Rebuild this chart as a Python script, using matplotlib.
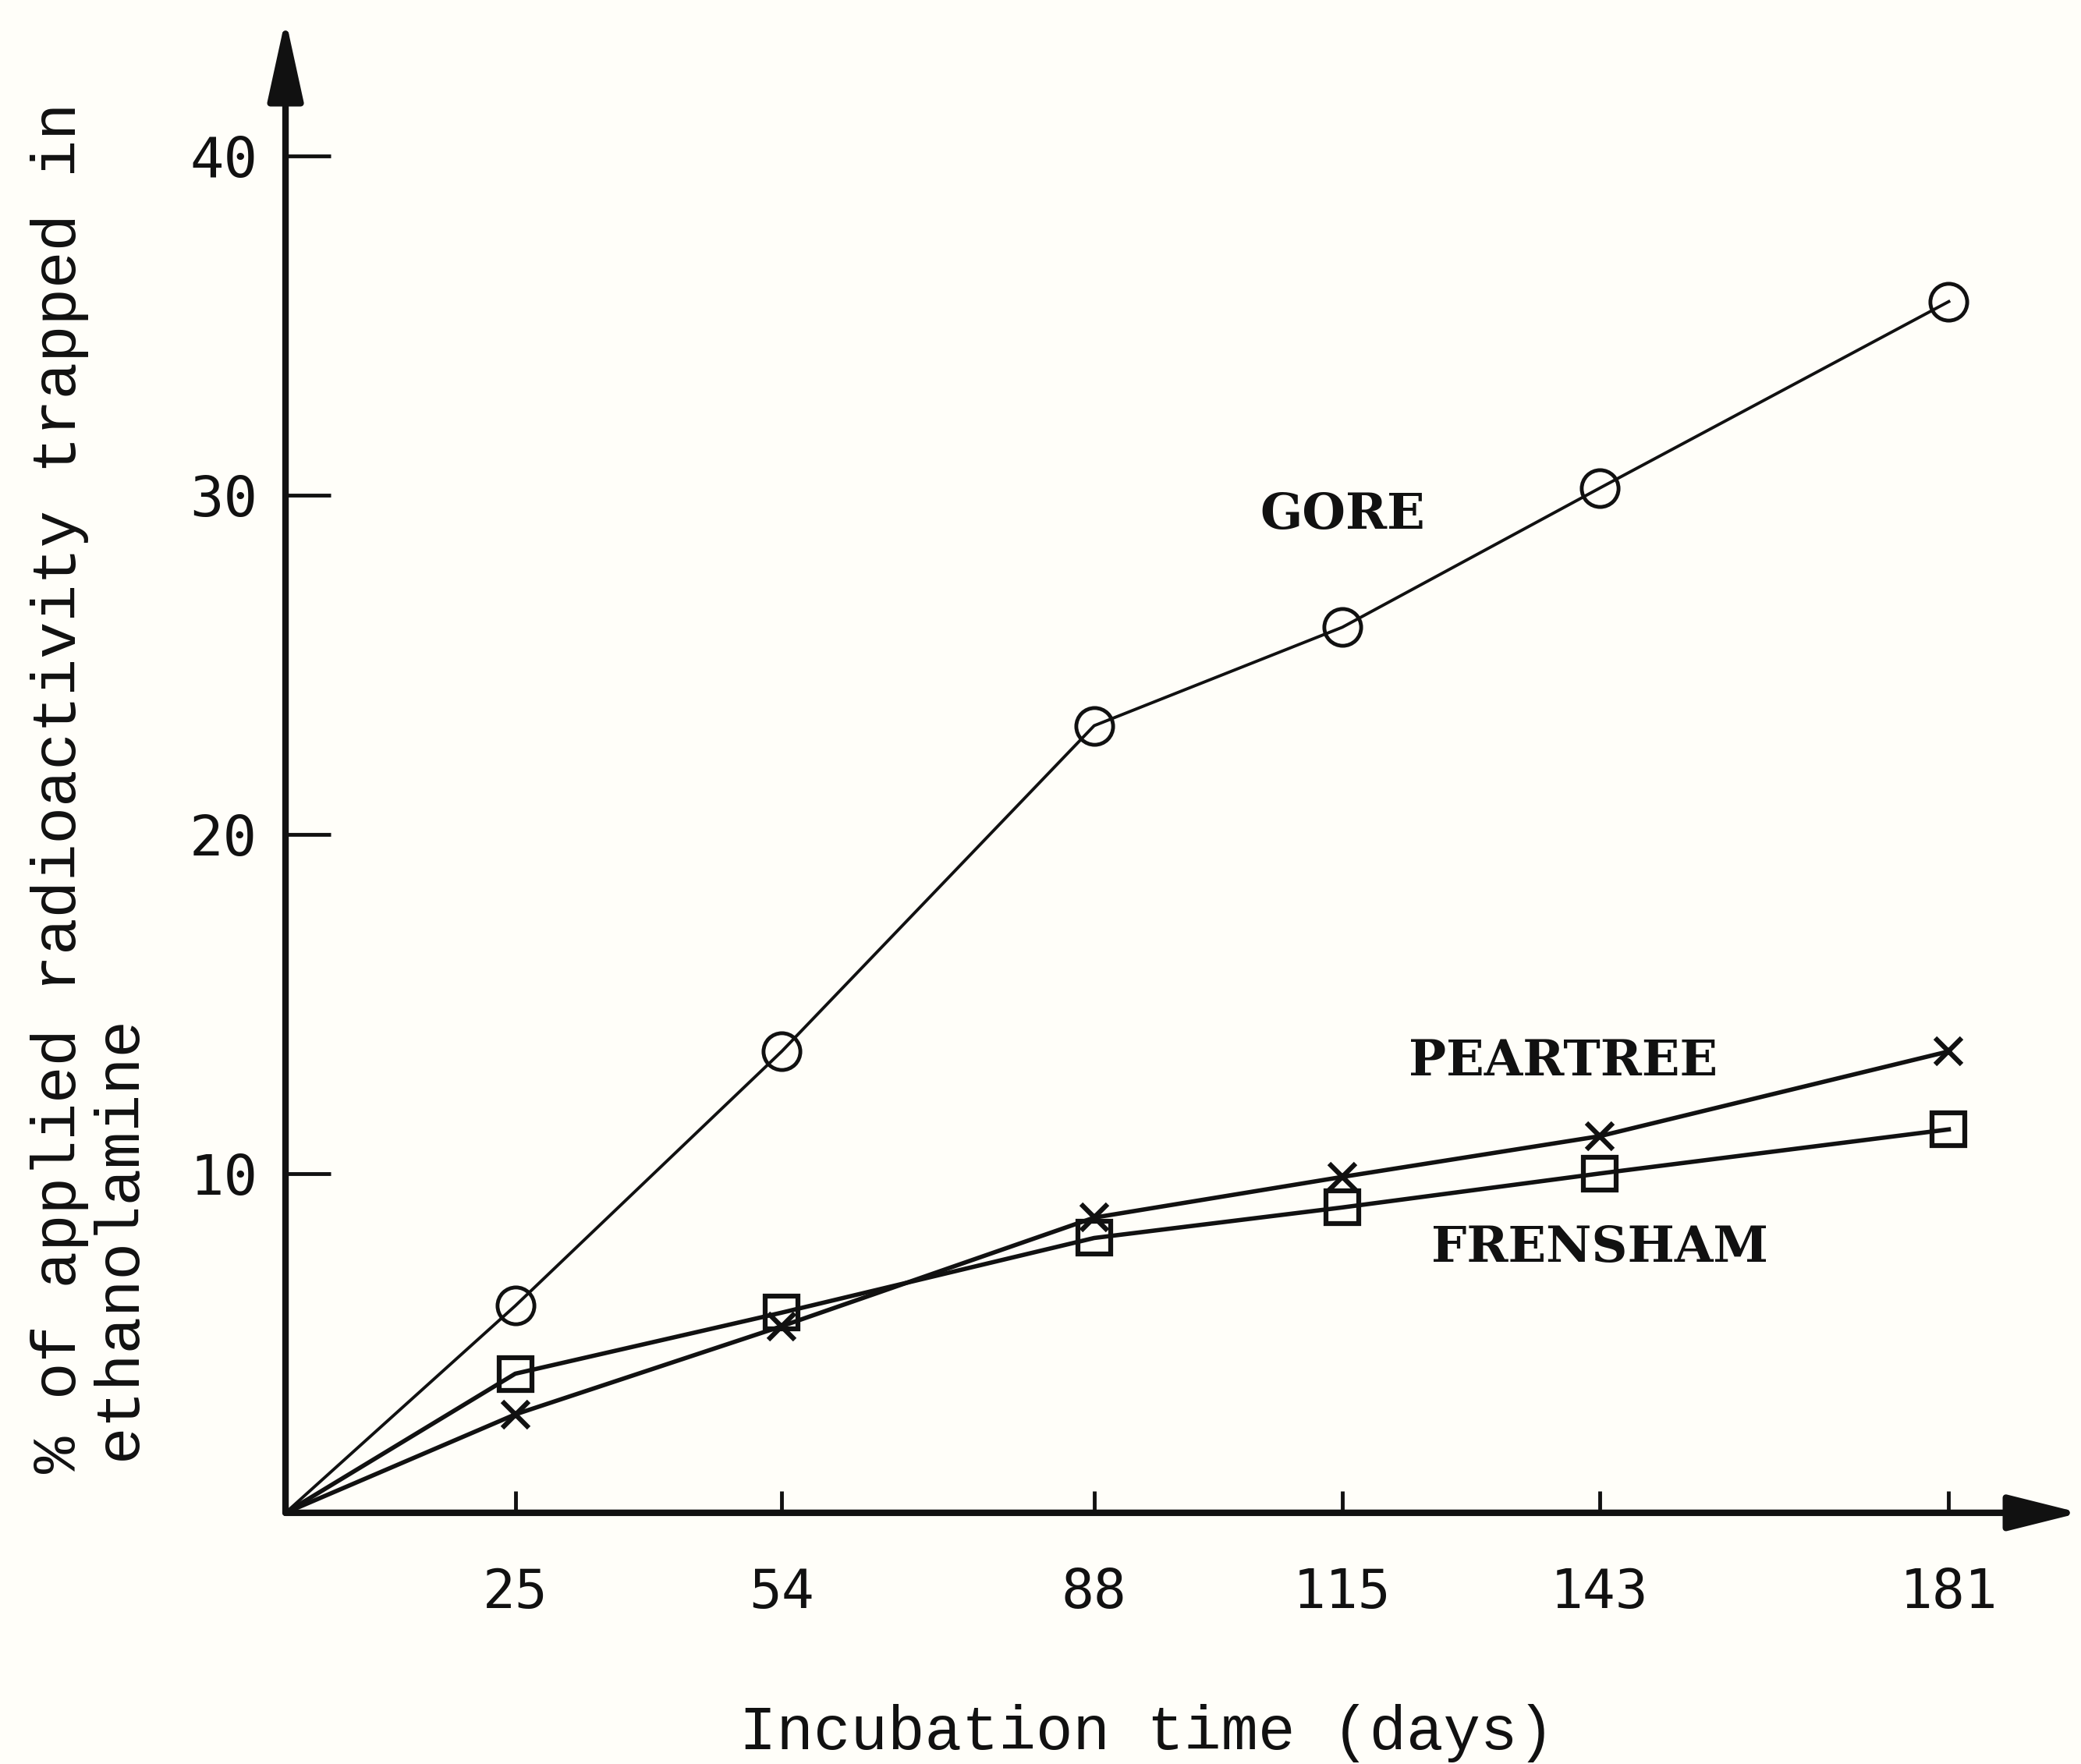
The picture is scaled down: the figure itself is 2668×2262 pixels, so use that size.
import matplotlib
matplotlib.use("Agg")
import matplotlib.pyplot as plt

# dataset
days = [0, 25, 54, 88, 115, 143, 181]
gore = [0, 6.1, 13.6, 23.2, 26.1, 30.2, 35.7]
peartree = [0, 2.9, 5.5, 8.7, 9.9, 11.1, 13.6]
frensham = [0, 4.1, 5.9, 8.1, 9.0, 10.0, 11.3]

x_ticks = [25, 54, 88, 115, 143, 181]
y_ticks = [10, 20, 30, 40]

# series label positions in data units
labels = ["GORE", "PEARTREE", "FRENSHAM"]
label_x = [115, 139, 143]
label_y = [29.4, 13.3, 7.8]

paper = "#fffef9"
ink = "#111111"

fig = plt.figure(figsize=(26.68, 22.62), dpi=100, facecolor=paper)
ax = fig.add_axes([0.1372, 0.1424, 0.858, 0.8386])
ax.set_facecolor(paper)
ax.set_xlim(0, 194.3)
ax.set_ylim(0, 43.6)

# curves, no marker at the origin
ax.plot(days, gore, color=ink, lw=2.8, marker="o", ms=34, mfc="none",
        mec=ink, mew=3.5, markevery=range(1, len(days)), clip_on=False,
        zorder=3)
ax.plot(days, peartree, color=ink, lw=4, marker="x", ms=24, mec=ink,
        mew=4.5, markevery=range(1, len(days)), clip_on=False, zorder=3)
ax.plot(days, frensham, color=ink, lw=4, marker="s", ms=30, mfc="none",
        mec=ink, mew=4.5, markevery=range(1, len(days)), clip_on=False,
        zorder=3)

for name, lx, ly in zip(labels, label_x, label_y):
    ax.text(lx, ly, name, ha="center", va="center", fontsize=46,
            family="DejaVu Serif", fontweight="bold", color=ink)

# axes drawn as arrows
for s in ax.spines.values():
    s.set_visible(False)
ax.annotate("", xy=(0, 1.01), xytext=(0, 0), xycoords="axes fraction",
            arrowprops=dict(arrowstyle="-|>,head_length=1.6,head_width=0.35",
                            lw=6, color=ink, mutation_scale=40,
                            shrinkA=0, shrinkB=0))
ax.annotate("", xy=(1.005, 0), xytext=(0, 0), xycoords="axes fraction",
            arrowprops=dict(arrowstyle="-|>,head_length=1.4,head_width=0.35",
                            lw=6, color=ink, mutation_scale=40,
                            shrinkA=0, shrinkB=0))

ax.set_xticks(x_ticks)
ax.set_xticklabels([str(t) for t in x_ticks])
ax.set_yticks(y_ticks)
ax.set_yticklabels([str(t) for t in y_ticks])
ax.tick_params(axis="x", direction="in", length=20, width=3.5, pad=50,
               labelsize=50, colors=ink)
ax.tick_params(axis="y", direction="in", length=42, width=3.5, pad=26,
               labelsize=52, colors=ink)
for lab in ax.get_xticklabels() + ax.get_yticklabels():
    lab.set_family("DejaVu Sans Mono")

# axis titles in typewriter face
fig.text(0.5512, 1 - 2222 / 2262, "Incubation time (days)", ha="center",
         va="center", fontsize=57, family="Liberation Mono", color=ink)
fig.text(77 / 2668, 1 - 1889 / 2262, "% of applied radioactivity trapped in",
         rotation=90, ha="center", va="bottom", fontsize=57,
         family="Liberation Mono", color=ink)
fig.text(153 / 2668, 1 - 1872 / 2262, "ethanolamine",
         rotation=90, ha="center", va="bottom", fontsize=57,
         family="Liberation Mono", color=ink)

fig.savefig("out.png", dpi=100, facecolor=paper)
